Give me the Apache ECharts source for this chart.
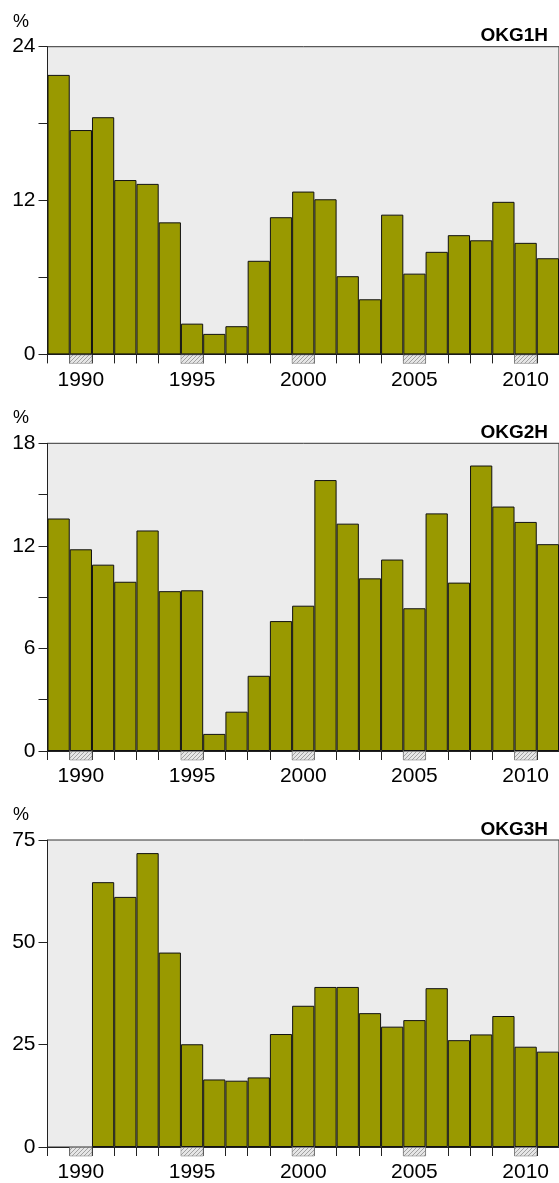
<!DOCTYPE html>
<html>
<head>
<meta charset="utf-8">
<script src="https://cdn.jsdelivr.net/npm/echarts@6/dist/echarts.min.js"></script>
<style>
  html, body { margin: 0; padding: 0; background: #ffffff; }
  #chart { width: 559px; height: 1183px; }
</style>
</head>
<body>
<div id="chart"></div>
<script>
// Years shown on every panel
const years = ['1989','1990','1991','1992','1993','1994','1995','1996','1997','1998','1999',
  '2000','2001','2002','2003','2004','2005','2006','2007','2008','2009','2010','2011'];

// Annual percentages per series
const okg1h = [21.8, 17.5, 18.5, 13.6, 13.3, 10.3, 2.4, 1.6, 2.2, 7.3, 10.7,
  12.7, 12.1, 6.1, 4.3, 10.9, 6.3, 8.0, 9.3, 8.9, 11.9, 8.7, 7.5];
const okg2h = [13.6, 11.8, 10.9, 9.9, 12.9, 9.35, 9.4, 1.0, 2.3, 4.4, 7.6,
  8.5, 15.85, 13.3, 10.1, 11.2, 8.35, 13.9, 9.85, 16.7, 14.3, 13.4, 12.1];
const okg3h = [null, null, 64.7, 61.1, 71.8, 47.5, 25.1, 16.5, 16.2, 17.0, 27.6,
  34.5, 39.1, 39.1, 32.7, 29.4, 31.0, 38.8, 26.1, 27.5, 32.0, 24.5, 23.3];

// Years flagged with a hatched box under the axis
const markYears = ['1990', '1995', '2000', '2005', '2010'];

// Panel names and y scales
const panelNames = ['OKG1H', 'OKG2H', 'OKG3H'];
const yMax = [24, 18, 75];
const yTickStep = [6, 3, 25];
const yLabelStep = [12, 6, 25];

const FONT = '"Liberation Sans", Arial, Helvetica, sans-serif';
const gridTops = [46.7, 443.3, 840];
const gridHeight = 307.7;
const gridLeft = 47.5;
const gridWidth = 514;

// diagonal hatch tile
function hatchPattern() {
  const s = 4;
  const c = document.createElement('canvas');
  c.width = s; c.height = s;
  const g = c.getContext('2d');
  g.fillStyle = '#e6e6e6';
  g.fillRect(0, 0, s, s);
  g.strokeStyle = '#999999';
  g.lineWidth = 0.9;
  g.beginPath();
  g.moveTo(-1, s + 1); g.lineTo(s + 1, -1);
  g.moveTo(-s - 1, 1); g.lineTo(1, -s - 1);
  g.moveTo(s - 1, 2 * s + 1); g.lineTo(2 * s + 1, s - 1);
  g.stroke();
  return { image: c, repeat: 'repeat' };
}
const hatch = hatchPattern();

const seriesData = [okg1h, okg2h, okg3h];

const grids = [], xAxes = [], yAxes = [], series = [], graphics = [];
for (let i = 0; i < 3; i++) {
  grids.push({
    left: gridLeft, top: gridTops[i], width: gridWidth, height: gridHeight,
    show: true, backgroundColor: '#ececec', borderColor: '#333333', borderWidth: 1
  });
  xAxes.push({
    type: 'category', gridIndex: i, data: years,
    axisLine: { show: true, lineStyle: { color: '#222222', width: 1 } },
    axisTick: { show: true, interval: 0, length: 9, alignWithLabel: false,
      lineStyle: { color: '#222222', width: 1 } },
    axisLabel: {
      interval: (idx, val) => Number(val) % 5 === 0,
      fontSize: 21, fontFamily: FONT, color: '#000000', margin: 15
    },
    splitLine: { show: false }
  });
  const step = yLabelStep[i];
  yAxes.push({
    type: 'value', gridIndex: i, min: 0, max: yMax[i], interval: yTickStep[i],
    axisLine: { show: true, lineStyle: { color: '#222222', width: 1 } },
    axisTick: { show: true, length: 9, lineStyle: { color: '#222222', width: 1 } },
    axisLabel: {
      fontSize: 21, fontFamily: FONT, color: '#000000', margin: 12,
      formatter: v => (v % step === 0 ? String(v) : '')
    },
    splitLine: { show: false }
  });
  series.push({
    type: 'bar', xAxisIndex: i, yAxisIndex: i, data: seriesData[i],
    barCategoryGap: '0%',
    itemStyle: { color: '#999900', borderColor: '#111111', borderWidth: 1 },
    emphasis: { disabled: true },
    animation: false
  });
  series.push({
    type: 'custom', xAxisIndex: i, yAxisIndex: i, clip: false,
    data: markYears.map(y => [y]),
    encode: { x: 0 },
    renderItem: (params, api) => {
      const idx = api.value(0);
      const p = api.coord([idx, 0]);
      const w = api.size([1, 0])[0];
      return {
        type: 'rect',
        shape: { x: p[0] - w / 2, y: p[1] + 0.5, width: w, height: 8.5 },
        style: { fill: hatch, stroke: '#8a8a8a', lineWidth: 0.6 }
      };
    },
    animation: false, silent: true
  });
  graphics.push({
    type: 'text', left: 13, top: gridTops[i] - 34,
    style: { text: '%', font: '18px ' + FONT, fill: '#000000' }
  });
  graphics.push({
    type: 'text', right: 11, top: gridTops[i] - 20,
    style: { text: panelNames[i], font: 'bold 19px ' + FONT, fill: '#000000' }
  });
}

const chart = echarts.init(document.getElementById('chart'), null, { renderer: 'canvas' });
chart.setOption({
  animation: false,
  backgroundColor: '#ffffff',
  grid: grids,
  xAxis: xAxes,
  yAxis: yAxes,
  series: series,
  graphic: graphics
});
</script>
</body>
</html>
